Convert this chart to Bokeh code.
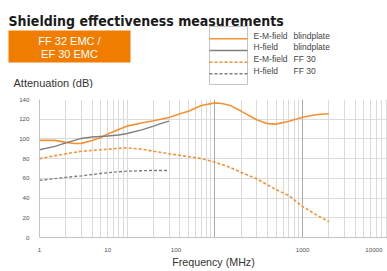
from bokeh.plotting import figure
from bokeh.layouts import column
from bokeh.models import Range1d, FixedTicker, Grid
from bokeh.core.properties import value
from bokeh.embed import file_html
from bokeh.resources import INLINE

# ---------------- data ----------------
title = "Shielding effectiveness measurements"
product_lines = ["FF 32 EMC /", "EF 30 EMC"]

freq_em_blind = [1, 1.5, 2, 2.5, 3, 4, 5, 6, 8, 10, 15, 20, 30, 40, 50, 70, 100, 120, 150, 200, 300, 400, 500, 700, 1000, 1400, 2000]
db_em_blind = [98.5, 98.5, 96.5, 95.3, 95.5, 98.5, 101.5, 105, 109.5, 113, 116.5, 118.5, 121.8, 125.5, 128, 134, 136.6, 136, 134, 128, 119.5, 115.5, 115, 118, 122, 124.5, 125.5]

freq_h_blind = [1, 1.5, 2, 3, 4, 6, 8, 10, 15, 20, 25, 30]
db_h_blind = [89, 92.5, 96, 100.5, 102, 103, 104, 105.5, 109.5, 113, 116, 118]

freq_em_ff30 = [1, 2, 3, 5, 7, 10, 15, 20, 30, 50, 70, 100, 150, 200, 300, 500, 700, 1000, 1400, 2000]
db_em_ff30 = [80, 85, 87.5, 89, 90, 91, 89.5, 87.5, 85, 82, 80, 76.5, 71, 66, 59.5, 48.5, 42.5, 31.5, 23.5, 16]

freq_h_ff30 = [1, 2, 3, 5, 7, 10, 15, 20, 30]
db_h_ff30 = [58, 61, 62.5, 65, 66.3, 67.3, 67.8, 68, 68]

legend_kind = ["E-M-field", "H-field", "E-M-field", "H-field"]
legend_shield = ["blindplate", "blindplate", "FF 30", "FF 30"]

y_ticks = [0, 20, 40, 60, 80, 100, 120, 140]
# tick labels placed where the reference prints them
x_tick_at = [1, 6, 36, 1000, 6500]
x_tick_labels = ["1", "10", "100", "1000", "10000"]
minor_grid = [m * 10 ** k for k in range(4) for m in range(1, 10)]
major_grid = [100, 1000]

ORANGE = "#F39234"
BOX_ORANGE = "#F07D00"
GRAY = "#7f7f7f"
series_styles = [
    (ORANGE, "solid", 1.6),
    (GRAY, "solid", 1.4),
    (ORANGE, "3 2", 1.6),
    (GRAY, "3 2", 1.4),
]

W = 387
HEAD_H = 88
MAIN_H = 183
FONT = "Liberation Sans"

# ---------------- header (coordinates = page pixels) ----------------
hd = figure(width=W, height=HEAD_H, x_range=Range1d(0, W), y_range=Range1d(HEAD_H, 0),
            output_backend="svg", toolbar_location=None, min_border=0,
            min_border_left=0, min_border_right=0, min_border_top=0, min_border_bottom=0,
            x_axis_location=None, y_axis_location=None)
hd.frame_align = False
hd.grid.grid_line_color = None
hd.outline_line_color = None

hd.text(x=[8], y=[20.5], text=[title], text_font=value("DejaVu Sans Condensed"),
        text_font_size="14px", text_font_style="bold", text_baseline="alphabetic",
        text_align="left", text_color="#1a1a1a")

hd.quad(left=[8], right=[130], top=[30], bottom=[62], fill_color=BOX_ORANGE, line_color=None)
hd.text(x=[69, 69], y=[40.3, 53.3], text=product_lines, text_font=value(FONT),
        text_font_size="11px", text_align="center", text_baseline="middle", text_color="white")

# legend
leg_y = [38.3, 50, 61.7, 73.3]
hd.quad(left=[209], right=[247], top=[26], bottom=[84], fill_color=None, line_color="#c4c4c4", line_width=1)
for yy, (c, d, w) in zip(leg_y, series_styles):
    hd.segment(x0=[209], x1=[247], y0=[yy], y1=[yy], line_color=c, line_dash=d, line_width=w)
hd.text(x=[253] * 4, y=[yy - 3.3 for yy in leg_y], text=legend_kind, text_font=value(FONT),
        text_font_size="8.5px", text_baseline="middle", text_align="left", text_color="#444444")
hd.text(x=[293] * 4, y=[yy - 3.3 for yy in leg_y], text=legend_shield, text_font=value(FONT),
        text_font_size="8.5px", text_baseline="middle", text_align="left", text_color="#444444")

hd.text(x=[13], y=[82], text=["Attenuation (dB)"], text_font=value(FONT),
        text_font_size="11px", text_baseline="middle", text_align="left", text_color="#333333")

# ---------------- main chart ----------------
p = figure(width=W, height=MAIN_H, x_axis_type="log", x_range=Range1d(1, 9300),
           y_range=Range1d(0, 140), output_backend="svg", toolbar_location=None,
           min_border_left=39, min_border_right=0, min_border_top=11, min_border_bottom=34)
p.frame_align = False
p.outline_line_color = None
p.xgrid.grid_line_color = None
p.ygrid.grid_line_color = "#dcdcdc"
p.ygrid.ticker = FixedTicker(ticks=y_ticks)

p.add_layout(Grid(dimension=0, ticker=FixedTicker(ticks=minor_grid), grid_line_color="#dadada", grid_line_width=1))
p.add_layout(Grid(dimension=0, ticker=FixedTicker(ticks=major_grid), grid_line_color="#a9a9a9", grid_line_width=1))

for (fx, fy), (c, d, w) in zip([(freq_em_blind, db_em_blind), (freq_h_blind, db_h_blind),
                                 (freq_em_ff30, db_em_ff30), (freq_h_ff30, db_h_ff30)], series_styles):
    p.line(fx, fy, line_color=c, line_dash=d, line_width=w)

p.xaxis.ticker = FixedTicker(ticks=x_tick_at)
p.xaxis.major_label_overrides = {t: l for t, l in zip(x_tick_at, x_tick_labels)}
p.yaxis.ticker = FixedTicker(ticks=y_ticks)
for ax in (p.xaxis, p.yaxis):
    ax.axis_line_color = "#c4c4c4"
    ax.major_tick_line_color = None
    ax.minor_tick_line_color = None
    ax.major_label_text_font = FONT
    ax.major_label_text_font_size = "6.2px"
    ax.major_label_text_color = "#555555"
p.xaxis.major_label_standoff = 4
p.yaxis.major_label_standoff = 4
p.xaxis.axis_label = "Frequency (MHz)"
p.xaxis.axis_label_text_font = FONT
p.xaxis.axis_label_text_font_size = "10.7px"
p.xaxis.axis_label_text_font_style = "normal"
p.xaxis.axis_label_text_color = "#333333"
p.xaxis.axis_label_standoff = 1

layout = column(hd, p, spacing=0)
open("out.html", "w").write(file_html(layout, INLINE))
